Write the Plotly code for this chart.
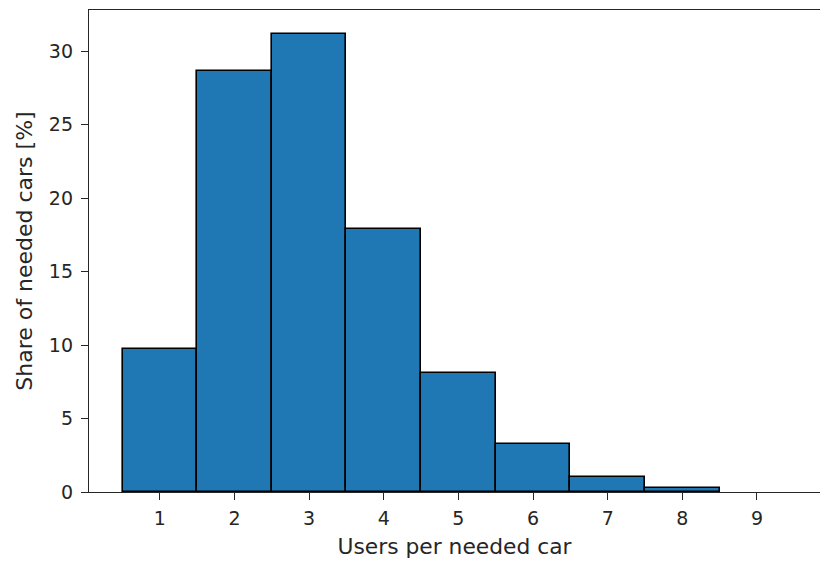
import plotly.graph_objects as go

# Share of needed cars by number of users served per car
users_per_car = [1, 2, 3, 4, 5, 6, 7, 8, 9]
share_pct = [9.75, 28.65, 31.2, 17.9, 8.07, 3.25, 1.0, 0.24, 0.0]

x_ticks = [1, 2, 3, 4, 5, 6, 7, 8, 9]
y_ticks = [0, 5, 10, 15, 20, 25, 30]

FONT = "DejaVu Sans"
INK = "#262626"

# empty bins get no outline
edge_widths = [1.6 if v > 0 else 0 for v in share_pct]

fig = go.Figure(
    go.Bar(
        x=users_per_car,
        y=share_pct,
        width=1,
        marker=dict(color="#1f77b4", line=dict(color="black", width=edge_widths)),
    )
)

fig.update_layout(
    width=820,
    height=562,
    margin=dict(l=89, r=0, t=10, b=70),
    paper_bgcolor="white",
    plot_bgcolor="white",
    bargap=0,
    showlegend=False,
    font=dict(family=FONT, size=19, color=INK),
)

fig.update_xaxes(
    range=[0.05, 9.845],
    tickvals=x_ticks,
    ticktext=[str(v) for v in x_ticks],
    ticks="outside",
    ticklen=7,
    tickwidth=1.3,
    tickcolor=INK,
    showline=True,
    linecolor=INK,
    linewidth=1.3,
    mirror=True,
    showgrid=False,
    zeroline=False,
    ticklabelstandoff=2,
    title=dict(text="Users per needed car", font=dict(family=FONT, size=21.8, color=INK), standoff=10),
)

fig.update_yaxes(
    range=[0, 32.8],
    tickvals=y_ticks,
    ticktext=[str(v) for v in y_ticks],
    ticks="outside",
    ticklen=7,
    tickwidth=1.3,
    tickcolor=INK,
    showline=True,
    linecolor=INK,
    linewidth=1.3,
    showgrid=False,
    zeroline=False,
    ticklabelstandoff=4,
    title=dict(text="Share of needed cars [%]", font=dict(family=FONT, size=22, color=INK), standoff=10),
)

fig.write_html("out.html")
